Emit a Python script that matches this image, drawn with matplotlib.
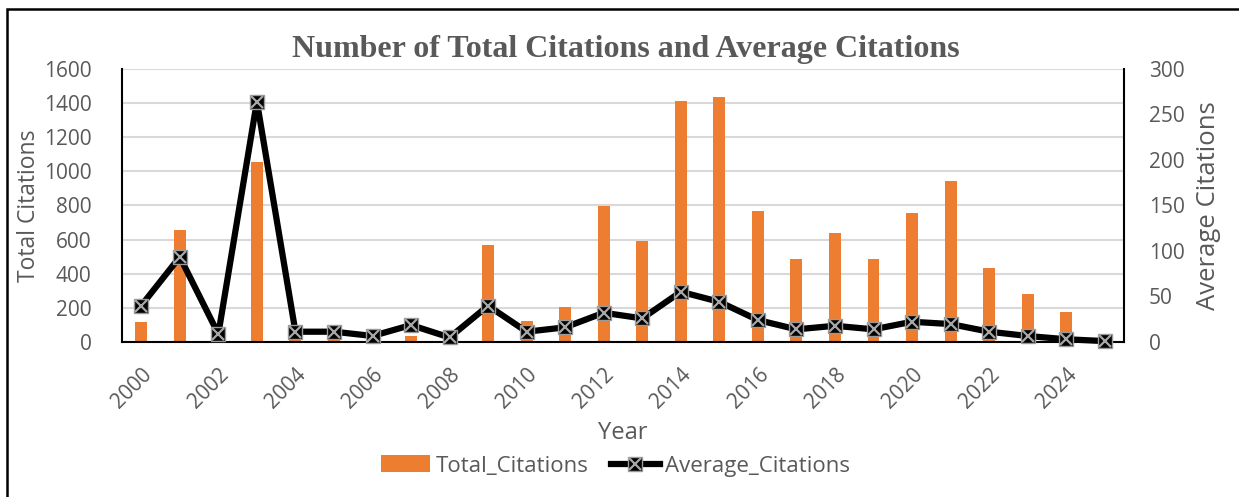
import matplotlib.pyplot as plt
import numpy as np
from matplotlib.patches import Rectangle
from matplotlib.lines import Line2D
from matplotlib.patches import Patch

years = list(range(2000, 2026))
total_citations = [118, 654, 9, 1053, 11, 11, 7, 35, 5, 566, 122, 203, 794, 590,
                   1409, 1436, 769, 483, 640, 485, 757, 940, 436, 280, 173, 1]
average_citations = [40, 93.4, 8.8, 263.9, 11.3, 11.3, 6.6, 18.6, 5, 39.8, 11.3, 16.1,
                     32.1, 25.9, 55.1, 44.1, 24.1, 13.9, 17.8, 13.9, 22.2, 19.7, 11.3,
                     6.6, 3, 1]
left_ticks = [0, 200, 400, 600, 800, 1000, 1200, 1400, 1600]
right_ticks = [0, 50, 100, 150, 200, 250, 300]

txt = '#595959'
orange = '#ED7D31'
plt.rcParams['font.family'] = ['Open Sans', 'DejaVu Sans']

fig = plt.figure(figsize=(12.39, 4.97), dpi=100)
ax = fig.add_axes([122 / 1239, 1 - 342 / 497, (1124 - 122) / 1239, (342 - 68.7) / 497])
x = np.arange(len(years))

ax.bar(x, total_citations, width=0.31, color=orange, zorder=2)
ax.set_xlim(-0.5, len(years) - 0.5)
ax.set_ylim(0, 1600)
ax.set_yticks(left_ticks)
ax.yaxis.grid(True, color='#D9D9D9', linewidth=1.5, zorder=0)
ax.set_axisbelow(True)
ax.set_xticks(x[::2])
ax.set_xticklabels([str(y) for y in years[::2]], rotation=45, ha='right',
                   va='top', rotation_mode='anchor')
ax.tick_params(axis='both', length=0, labelsize=15, labelcolor=txt)
ax.tick_params(axis='x', pad=16)
ax.tick_params(axis='y', pad=22)
for s in ['top', 'right']:
    ax.spines[s].set_visible(False)
ax.spines['left'].set_linewidth(1.5)
ax.spines['bottom'].set_linewidth(1.5)
ax.set_ylabel('Total Citations', fontsize=16.5, color=txt, labelpad=2)
ax.set_xlabel('Year', fontsize=17, color=txt, labelpad=6)

ax2 = ax.twinx()
ax2.plot(x, average_citations, color='black', linewidth=4.5, marker='s',
         markersize=10.5, markerfacecolor='black', markeredgecolor='#9A9A9A',
         markeredgewidth=1, zorder=3, clip_on=False)
ax2.plot(x, average_citations, linestyle='none', marker='x', markersize=9,
         markeredgecolor='#A6A6A6', markeredgewidth=1.6, zorder=4, clip_on=False)
ax2.set_ylim(0, 300)
ax2.set_yticks(right_ticks)
ax2.tick_params(axis='y', length=0, labelsize=15, labelcolor=txt, pad=18)
for s in ['top', 'left', 'bottom']:
    ax2.spines[s].set_visible(False)
ax2.spines['right'].set_linewidth(1.5)
ax2.set_ylabel('Average Citations', fontsize=18.5, color=txt, labelpad=8)

fig.text(0.505, 1 - 49 / 497, 'Number of Total Citations and Average Citations',
         ha='center', va='center', fontsize=23, fontweight='bold', color=txt,
         family='Liberation Serif')

sq = Line2D([0], [0], color='black', linewidth=4.5, marker='s', markersize=10.5,
            markerfacecolor='black', markeredgecolor='#9A9A9A')
cross = Line2D([0], [0], linestyle='none', marker='x', markersize=9,
               markeredgecolor='#A6A6A6', markeredgewidth=1.6)
handles = [Patch(facecolor=orange), (sq, cross)]
fig.legend(handles, ['Total_Citations', 'Average_Citations'], loc='center',
           bbox_to_anchor=(0.497, 1 - 466 / 497), ncol=2, frameon=False,
           fontsize=16, labelcolor=txt, handlelength=2.2, handleheight=0.8,
           columnspacing=1.0, handletextpad=0.25)

fig.patches.append(Rectangle((7 / 1239, -0.05), 1.1, 1.05 - 9 / 497,
                             transform=fig.transFigure, fill=False,
                             edgecolor='black', linewidth=1.8))

fig.savefig('out.png', dpi=100)
